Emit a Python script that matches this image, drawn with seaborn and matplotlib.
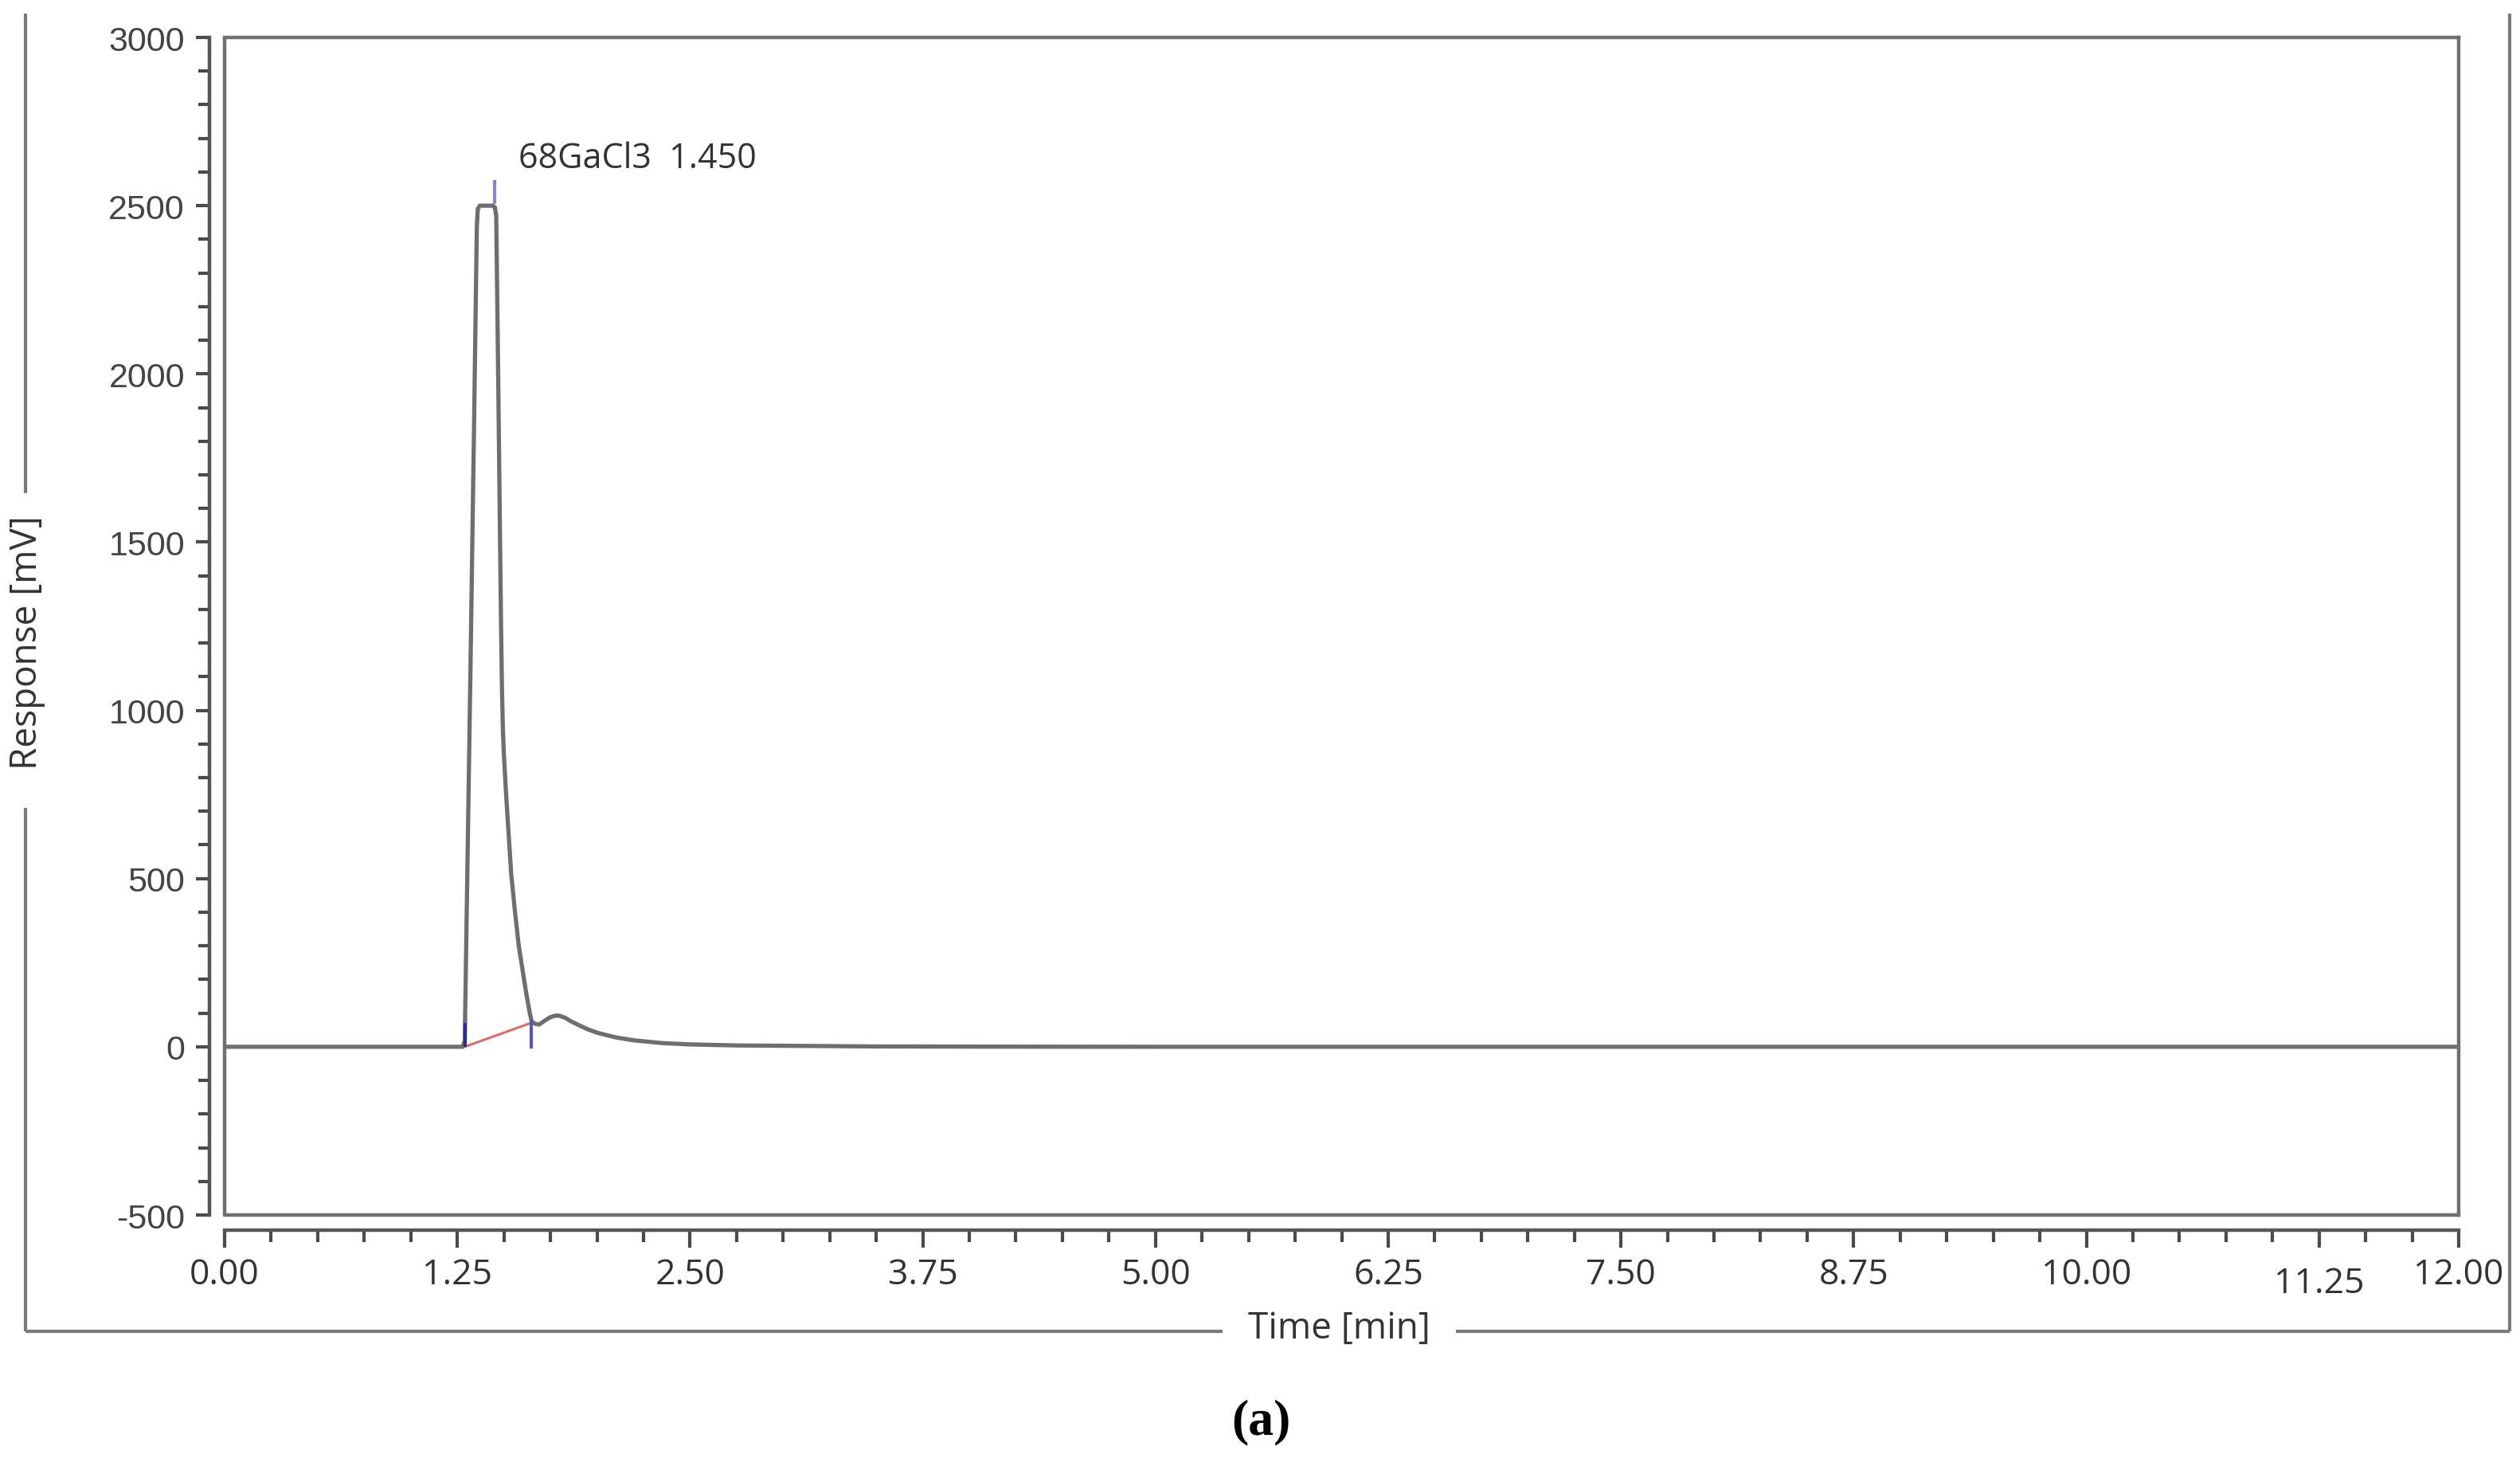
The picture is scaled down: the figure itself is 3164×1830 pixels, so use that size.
import numpy as np
import pandas as pd
import seaborn as sns
import matplotlib.pyplot as plt
from matplotlib.lines import Line2D
from matplotlib.ticker import MultipleLocator, FixedLocator

time_min = [0.00, 1.20, 1.28, 1.29, 1.30, 1.32, 1.34, 1.35, 1.355, 1.36, 1.37,
            1.40, 1.44, 1.452, 1.459, 1.465, 1.47, 1.48, 1.485, 1.49, 1.495,
            1.50, 1.51, 1.52, 1.54, 1.56, 1.58, 1.60, 1.62, 1.64, 1.65, 1.67,
            1.69, 1.72, 1.75, 1.78, 1.80, 1.83, 1.86, 1.90, 1.95, 2.00, 2.10,
            2.20, 2.35, 2.50, 2.75, 3.00, 3.50, 4.00, 5.00, 12.00]
response_mv = [0, 0, 0, 20, 380, 1100, 1850, 2250, 2440, 2490, 2500,
               2500, 2500, 2495, 2470, 2200, 1970, 1480, 1250, 1060, 940,
               870, 770, 680, 510, 400, 300, 230, 160, 98, 74, 68,
               66, 78, 88, 93, 92, 86, 76, 65, 52, 42, 28,
               19, 11, 7, 4, 3, 1, 0.5, 0, 0]

peak_name = '68GaCl3'
peak_rt = 1.450
peak_top = 2500
base_start = [1.29, 0]
base_end = [1.647, 71]

x_ticks = [0.0, 1.25, 2.5, 3.75, 5.0, 6.25, 7.5, 8.75, 10.0, 11.25, 12.0]
x_labels = ['0.00', '1.25', '2.50', '3.75', '5.00', '6.25', '7.50', '8.75',
            '10.00', '11.25', '12.00']
y_ticks = [-500, 0, 500, 1000, 1500, 2000, 2500, 3000]

sns.set_theme(style='white')
plt.rcParams['font.family'] = ['Open Sans', 'DejaVu Sans']
plt.rcParams['axes.unicode_minus'] = False

W, H = 3164, 1831
fig = plt.figure(figsize=(W / 100, H / 100), dpi=100)
ax = fig.add_axes([282 / W, 1 - 1526 / H, (3087 - 282) / W, (1526 - 48) / H])

df = pd.DataFrame({'time': time_min, 'response': response_mv})
sns.lineplot(data=df, x='time', y='response', ax=ax, color='#6e6e6e',
             lw=3.8, estimator=None, sort=False)

# integration baseline and peak markers
ax.plot([base_start[0], base_end[0]], [base_start[1], base_end[1]],
        color='#e26a6a', lw=2.2)
ax.vlines(base_start[0], base_start[1], base_start[1] + 70, color='#2e2e8e', lw=3)
ax.vlines(base_end[0], base_end[1] - 75, base_end[1] + 8, color='#5656b4', lw=3)
ax.vlines(peak_rt, peak_top + 5, peak_top + 75, color='#8c80d4', lw=3)

ax.annotate(f'{peak_name}  {peak_rt:.3f}', xy=(peak_rt, peak_top + 75),
            xytext=(22, 20), textcoords='offset points', fontsize=31,
            color='#333333', ha='left', va='center')

ax.set_xlim(0, 12)
ax.set_ylim(-500, 3000)
ax.set_xlabel('')
ax.set_ylabel('')

frame_col = '#707070'
for side in ['top', 'right']:
    ax.spines[side].set_color(frame_col)
    ax.spines[side].set_linewidth(3.2)
for side in ['left', 'bottom']:
    ax.spines[side].set_position(('outward', 14))
    ax.spines[side].set_color('#555555')
    ax.spines[side].set_linewidth(3.2)
# closing edges of the plot box
ax.plot([0, 0, 1], [1, 0, 0], transform=ax.transAxes, color=frame_col,
        lw=3.2, clip_on=False, solid_joinstyle='round')

ax.xaxis.set_major_locator(FixedLocator(x_ticks))
ax.set_xticklabels(x_labels)
ax.xaxis.set_minor_locator(MultipleLocator(0.25))
ax.yaxis.set_major_locator(FixedLocator(y_ticks))
ax.yaxis.set_minor_locator(MultipleLocator(100))

ax.tick_params(axis='x', which='major', bottom=True, length=16, width=3,
               color='#4a4a4a', pad=8, labelsize=32, labelcolor='#333333')
ax.tick_params(axis='x', which='minor', bottom=True, length=11, width=3,
               color='#4a4a4a')
ax.tick_params(axis='y', which='major', left=True, length=12, width=3,
               color='#4a4a4a', pad=10, labelsize=31, labelcolor='#444444',
               labelfontfamily='Liberation Sans')
ax.tick_params(axis='y', which='minor', left=True, length=10, width=3,
               color='#4a4a4a')
ax.xaxis.get_major_ticks()[9].set_pad(16)

# outer frame with gaps for the axis titles
def frame_line(x0, y0, x1, y1):
    fig.add_artist(Line2D([x0 / W, x1 / W], [1 - y0 / H, 1 - y1 / H],
                          color='#7a7a7a', lw=3, solid_capstyle='butt'))

frame_line(32, 18, 32, 620)
frame_line(32, 1015, 32, 1672)
frame_line(32, 1672, 1535, 1672)
frame_line(1828, 1672, 3151, 1672)
frame_line(3151, 18, 3151, 1672)

fig.text(34 / W, 1 - 807 / H, 'Response [mV]', rotation=90, ha='center',
         va='center', fontsize=33, color='#333333')
fig.text(1681 / W, 1 - 1668 / H, 'Time [min]', ha='center', va='center',
         fontsize=33, color='#333333')
fig.text(1583 / W, 1 - 1785 / H, '(a)', ha='center', va='center', fontsize=46,
         fontweight='bold', family=['Liberation Serif', 'DejaVu Serif'],
         color='black')

fig.savefig('out.png', dpi=100, facecolor='white')
